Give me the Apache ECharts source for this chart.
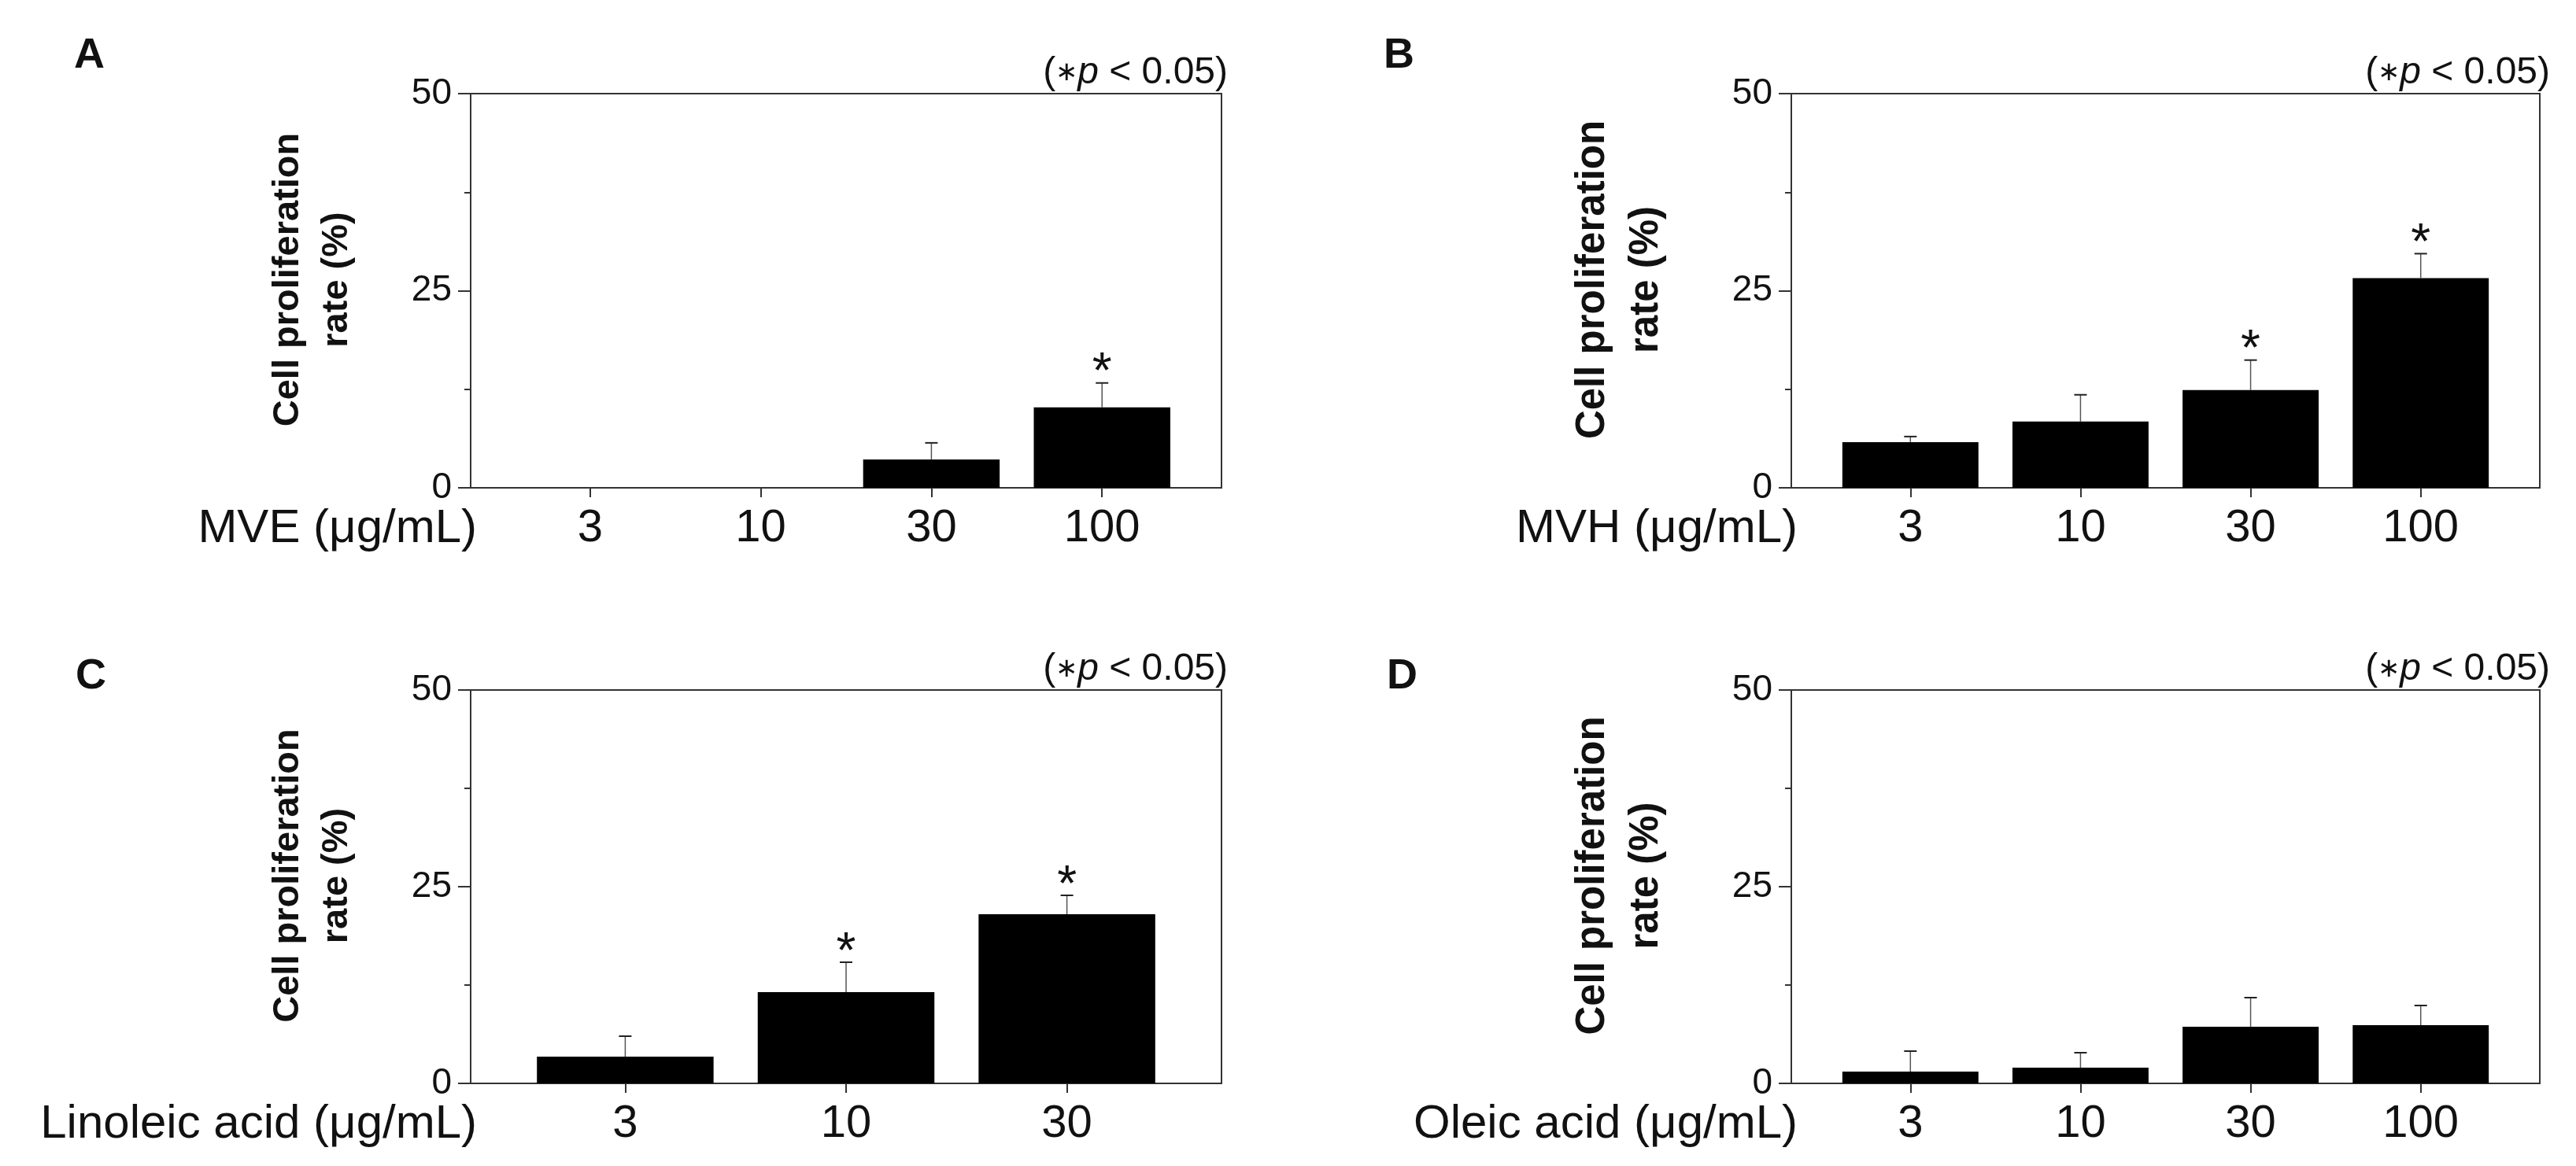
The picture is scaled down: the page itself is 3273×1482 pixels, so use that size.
<!DOCTYPE html>
<html>
<head>
<meta charset="utf-8">
<title>Cell proliferation rate</title>
<script src="https://cdn.jsdelivr.net/npm/echarts@6/dist/echarts.min.js"></script>
<style>
  html, body { margin: 0; padding: 0; background: #fff; }
  #chart { width: 3273px; height: 1482px; }
</style>
</head>
<body>
<div id="chart"></div>
<script>
// panel data (%)
var dosesA = ['3', '10', '30', '100'];
var rateA = [0, 0, 3.6, 10.2];
var sdA = [null, null, 2.1, 3.1];
var sigA = [0, 0, 0, 1];

var dosesB = ['3', '10', '30', '100'];
var rateB = [5.8, 8.4, 12.4, 26.6];
var sdB = [0.7, 3.4, 3.8, 3.1];
var sigB = [0, 0, 1, 1];

var dosesC = ['3', '10', '30'];
var rateC = [3.4, 11.6, 21.5];
var sdC = [2.6, 3.8, 2.4];
var sigC = [0, 1, 1];

var dosesD = ['3', '10', '30', '100'];
var rateD = [1.5, 2.0, 7.2, 7.4];
var sdD = [2.6, 1.9, 3.7, 2.5];
var sigD = [0, 0, 0, 0];

var yTicks = [0, 25, 50];
var yTitle = 'Cell proliferation\nrate (%)';
var pText = '({st|\u2217}{it|p} < 0.05)';

var panels = [
  { id: 'A', xName: 'MVE (\u03bcg/mL)', doses: dosesA, rate: rateA, sd: sdA, sig: sigA },
  { id: 'B', xName: 'MVH (\u03bcg/mL)', doses: dosesB, rate: rateB, sd: sdB, sig: sigB },
  { id: 'C', xName: 'Linoleic acid (\u03bcg/mL)', doses: dosesC, rate: rateC, sd: sdC, sig: sigC },
  { id: 'D', xName: 'Oleic acid (\u03bcg/mL)', doses: dosesD, rate: rateD, sd: sdD, sig: sigD }
];

// layout of the four panels (pixels)
var layout = [
  { left: 598, top: 119, width: 954, height: 501, letter: [94, 44], pRight: 1713, pTop: 69, titleSize: 47, titleLH: 62, titleGap: 139 },
  { left: 2276, top: 119, width: 951, height: 501, letter: [1758, 44], pRight: 33, pTop: 69, titleSize: 51, titleLH: 68, titleGap: 150 },
  { left: 598, top: 877, width: 954, height: 500, letter: [96, 833], pRight: 1713, pTop: 827, titleSize: 47, titleLH: 62, titleGap: 139 },
  { left: 2276, top: 877, width: 951, height: 500, letter: [1762, 833], pRight: 33, pTop: 827, titleSize: 51, titleLH: 68, titleGap: 150 }
];

var font = 'Liberation Sans, Arial, Helvetica, sans-serif';
var ink = '#111';
var axisColor = '#333';

function renderErr(params, api) {
  var x = api.value(0);
  var mean = api.value(1);
  var sd = api.value(2);
  var base = api.coord([x, mean]);
  var top = api.coord([x, mean + sd]);
  var children = [
    { type: 'line', shape: { x1: base[0], y1: base[1], x2: top[0], y2: top[1] },
      style: { stroke: '#555', lineWidth: 1.5 } },
    { type: 'line', shape: { x1: top[0] - 8, y1: top[1], x2: top[0] + 8, y2: top[1] },
      style: { stroke: '#222', lineWidth: 2 } }
  ];
  if (api.value(3)) {
    children.push({ type: 'text', x: top[0], y: top[1] - 11,
      style: { text: '*', fontSize: 64, fontFamily: font, fill: ink, align: 'center', verticalAlign: 'middle' } });
  }
  return { type: 'group', children: children };
}

var grid = [], xAxis = [], yAxis = [], series = [], title = [];

panels.forEach(function (p, i) {
  var L = layout[i];
  var n = p.doses.length;
  var pos = [];
  for (var k = 1; k <= n; k++) pos.push(k);

  grid.push({
    left: L.left, top: L.top, width: L.width, height: L.height,
    show: true, borderColor: axisColor, borderWidth: 2, backgroundColor: 'transparent',
    outerBoundsMode: 'none'
  });

  xAxis.push({
    type: 'value', gridIndex: i, min: 0.3, max: n + 0.7,
    axisLine: { show: true, onZero: false, lineStyle: { color: axisColor, width: 2 } },
    axisTick: { show: true, customValues: pos, length: 12, lineStyle: { color: axisColor, width: 2 } },
    axisLabel: {
      customValues: pos, fontSize: 58, fontFamily: font, color: ink, margin: 23,
      formatter: function (v) { return p.doses[Math.round(v) - 1]; }
    },
    splitLine: { show: false },
    name: p.xName, nameLocation: 'start', nameGap: -8, nameMoveOverlap: false,
    nameTextStyle: { fontSize: 60, fontFamily: font, color: ink, verticalAlign: 'top', padding: [22, 0, 0, 0] }
  });

  yAxis.push({
    type: 'value', gridIndex: i, min: 0, max: 50, interval: 25,
    axisLine: { show: true, lineStyle: { color: axisColor, width: 2 } },
    axisTick: { show: true, length: 16, lineStyle: { color: axisColor, width: 2 } },
    minorTick: { show: true, splitNumber: 2, length: 8, lineStyle: { color: axisColor, width: 2 } },
    axisLabel: {
      fontSize: 46, fontFamily: font, color: ink, margin: 24,
      formatter: function (v) { return yTicks.indexOf(v) >= 0 ? String(v) : ''; }
    },
    splitLine: { show: false },
    name: yTitle, nameLocation: 'middle', nameRotate: 90, nameGap: L.titleGap, nameMoveOverlap: false,
    nameTextStyle: {
      fontSize: L.titleSize, fontWeight: 'bold', fontFamily: font, color: ink,
      lineHeight: L.titleLH, align: 'center', padding: [0, 0, 0, 28]
    }
  });

  var barData = [], errData = [];
  for (var j = 0; j < n; j++) {
    barData.push([j + 1, p.rate[j]]);
    if (p.sd[j] != null) errData.push([j + 1, p.rate[j], p.sd[j], p.sig[j]]);
  }

  series.push({
    type: 'bar', name: p.id, xAxisIndex: i, yAxisIndex: i, data: barData,
    barWidth: '80%', itemStyle: { color: '#000' }, silent: true
  });
  series.push({
    type: 'custom', xAxisIndex: i, yAxisIndex: i, data: errData,
    renderItem: renderErr, silent: true, z: 3
  });

  title.push({
    text: p.id, left: L.letter[0], top: L.letter[1], padding: 0,
    textStyle: { fontSize: 54, fontWeight: 'bold', fontFamily: font, color: ink }
  });
  title.push({
    text: pText, right: L.pRight, top: L.pTop, padding: 0,
    textStyle: {
      fontSize: 48, fontWeight: 'normal', fontFamily: font, color: ink,
      rich: {
        st: { fontSize: 34, fontFamily: font, color: ink },
        it: { fontSize: 48, fontStyle: 'italic', fontFamily: font, color: ink }
      }
    }
  });
});

var chart = echarts.init(document.getElementById('chart'), null, { renderer: 'canvas' });
chart.setOption({
  backgroundColor: '#fff',
  animation: false,
  title: title,
  grid: grid,
  xAxis: xAxis,
  yAxis: yAxis,
  series: series
});
</script>
</body>
</html>
